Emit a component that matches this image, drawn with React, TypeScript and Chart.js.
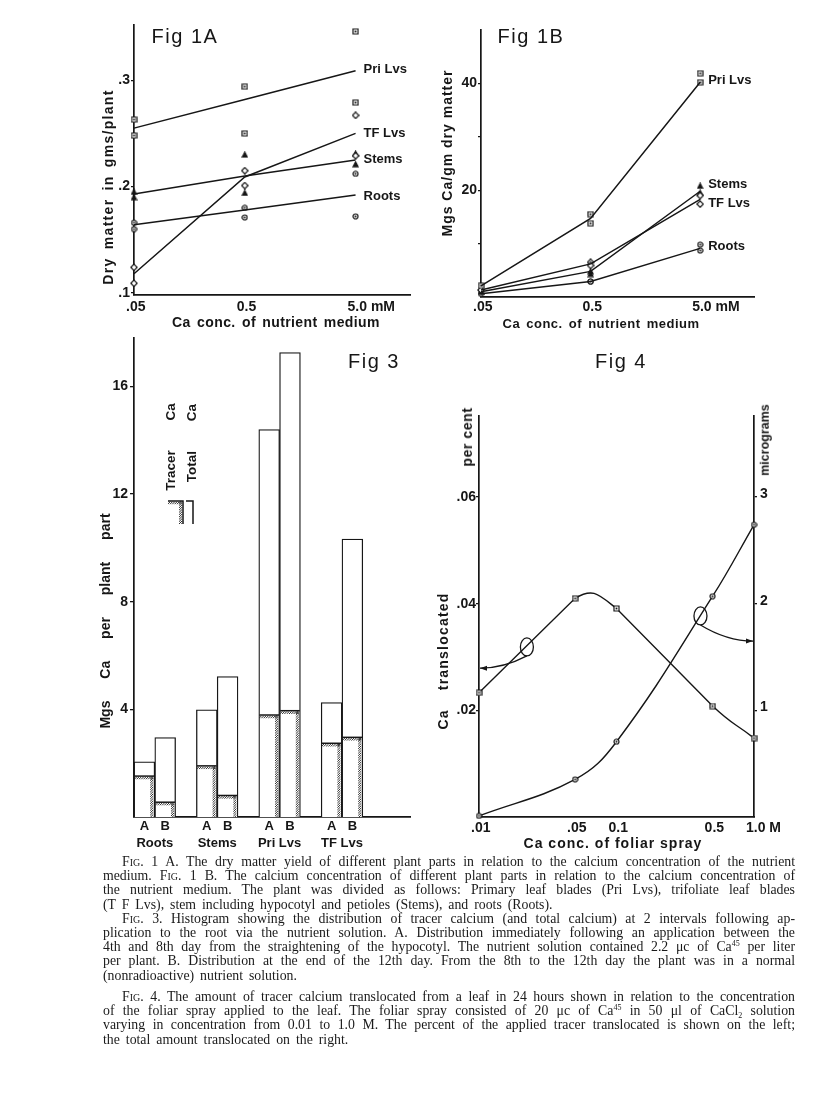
import React, { useEffect, useRef } from 'react';
import { Chart, registerables } from 'chart.js';

Chart.register(...registerables);

const INK = '#161616';
const FONT = '"Liberation Sans", Arial, sans-serif';

// ---------------- Fig 1A / 1B shared ----------------
const seriesNames = ['Pri Lvs', 'TF Lvs', 'Stems', 'Roots'];
const nutrientConc = [0.05, 0.5, 5.0];
const nutrientTicks = [0.05, 0.5, 5.0];
const nutrientTickLabels = ['.05', '0.5', '5.0 mM'];

// ---------------- Fig 1A: dry matter (gms/plant) ----------------
const fig1aYTicks = [0.1, 0.2, 0.3];
const fig1aYTickLabels = ['.1', '.2', '.3'];
const fig1aFitPri = [0.255, 0.282, 0.309];
const fig1aFitTF = [0.118, 0.209, 0.25];
const fig1aFitStems = [0.193, 0.21, 0.225];
const fig1aFitRoots = [0.164, 0.178, 0.192];
const fig1aObsConc = [0.05, 0.05, 0.5, 0.5, 5.0, 5.0];
const fig1aObsPri = [0.263, 0.248, 0.294, 0.25, 0.346, 0.279];
const fig1aObsTF = [0.124, 0.109, 0.215, 0.201, 0.267, 0.229];
const fig1aObsStems = [0.195, 0.19, 0.23, 0.194, 0.231, 0.221];
const fig1aObsRoots = [0.166, 0.16, 0.18, 0.171, 0.212, 0.172];
const fig1aLabelAt = [0.31, 0.25, 0.226, 0.191];

// ---------------- Fig 1B: Mgs Ca / gm dry matter ----------------
const fig1bYTicks = [10, 20, 30, 40];
const fig1bYTickLabels = ['', '20', '', '40'];
const fig1bFitPri = [2.1, 14.7, 40.2];
const fig1bFitTF = [1.3, 6.2, 18.3];
const fig1bFitStems = [1.0, 4.8, 19.8];
const fig1bFitRoots = [0.6, 2.9, 9.1];
const fig1bObsConc = [0.05, 0.5, 0.5, 5.0, 5.0];
const fig1bObsPri = [2.1, 15.5, 13.8, 41.9, 40.2];
const fig1bObsTF = [1.3, 6.5, 5.9, 17.4, 19.0];
const fig1bObsStems = [1.0, 4.8, 4.3, 20.8, 19.5];
const fig1bObsRoots = [0.6, 2.9, 2.9, 9.8, 8.7];
const fig1bLabelAt = [40.6, 17.6, 21.0, 9.55];

// ---------------- Fig 3: Mgs Ca per plant part ----------------
const fig3Parts = ['Roots', 'Stems', 'Pri Lvs', 'TF Lvs'];
const fig3Times = ['A', 'B'];
const fig3Total = [2.05, 2.95, 3.98, 5.22, 14.4, 17.26, 4.25, 10.33];
const fig3Tracer = [1.52, 0.55, 1.9, 0.8, 3.79, 3.95, 2.74, 2.96];
const fig3YTicks = [4, 8, 12, 16];
const fig3YTickLabels = ['4', '8', '12', '16'];

// ---------------- Fig 4: Ca translocated ----------------
const fig4Conc = [0.01, 0.05, 0.1, 0.5, 1.0];
const fig4XTickLabels = ['.01', '.05', '0.1', '0.5', '1.0 M'];
const fig4Percent = [0.0233, 0.041, 0.0391, 0.0208, 0.0148];
const fig4Micrograms = [0.01, 0.353, 0.706, 2.07, 2.74];
const fig4LeftTicks = [0.02, 0.04, 0.06];
const fig4LeftTickLabels = ['.02', '.04', '.06'];
const fig4RightTicks = [1, 2, 3];
const fig4RightTickLabels = ['1', '2', '3'];
const fig4Rings = [
  { x: 0.0223, y: 0.0319, side: 'left', to: 0.0279 },
  { x: 0.408, y: 0.0377, side: 'right', to: 1.65 },
];

// ---------------- helpers ----------------
function fixSize(size: number) {
  return (s: any) => {
    if (s.isHorizontal()) s.height = size;
    else s.width = size;
    s.paddingLeft = 0;
    s.paddingRight = 0;
    s.paddingTop = 0;
    s.paddingBottom = 0;
  };
}
function setTicks(values: number[]) {
  return (s: any) => {
    s.ticks = values.map((v) => ({ value: v }));
  };
}
const tickFont = (size = 14) => ({ family: FONT, size, weight: 'bold' as const });

function valueAxis(o: any) {
  return {
    type: 'linear',
    position: o.position || 'left',
    min: o.min,
    max: o.max,
    afterBuildTicks: setTicks(o.ticks),
    afterFit: fixSize(o.width),
    grid: { display: true, drawOnChartArea: false, drawTicks: true, tickLength: o.tickLen ?? 4, color: INK, lineWidth: 1.3 },
    border: { display: true, color: INK, width: 1.7 },
    ticks: {
      color: INK,
      font: tickFont(o.size || 14),
      padding: o.pad ?? 1,
      labelOffset: o.labelOffset || 0,
      autoSkip: false,
      callback: (_v: any, i: number) => o.labels[i],
    },
  };
}
function logAxis(o: any) {
  return {
    type: 'logarithmic',
    position: 'bottom',
    min: o.min,
    max: o.max,
    afterBuildTicks: setTicks(o.ticks),
    afterFit: fixSize(o.height),
    grid: { display: false, drawTicks: false },
    border: { display: true, color: INK, width: 1.7 },
    ticks: {
      color: INK,
      font: tickFont(14),
      padding: o.pad,
      align: 'start',
      labelOffset: -8,
      autoSkip: false,
      maxRotation: 0,
      minRotation: 0,
      callback: (_v: any, i: number) => o.labels[i],
    },
  };
}

function makeMarker(kind: string, size: number) {
  const c = document.createElement('canvas');
  c.width = size;
  c.height = size;
  const g = c.getContext('2d')!;
  const m = size / 2;
  g.lineWidth = 1.2;
  g.strokeStyle = INK;
  g.fillStyle = '#fff';
  g.beginPath();
  if (kind === 'square') g.rect(1, 1, size - 2, size - 2);
  else if (kind === 'circle') g.arc(m, m, m - 1, 0, Math.PI * 2);
  else if (kind === 'diamond') {
    g.moveTo(m, 0.8);
    g.lineTo(size - 0.8, m);
    g.lineTo(m, size - 0.8);
    g.lineTo(0.8, m);
    g.closePath();
  } else {
    g.moveTo(m, 1);
    g.lineTo(size - 1, size - 1);
    g.lineTo(1, size - 1);
    g.closePath();
  }
  if (kind === 'triangle') g.fillStyle = INK;
  g.fill();
  g.stroke();
  if (kind === 'square' || kind === 'circle') {
    g.fillStyle = INK;
    g.fillRect(m - 0.9, m - 0.9, 1.8, 1.8);
  }
  return c;
}

function baseOptions(padding: any) {
  return {
    responsive: false,
    maintainAspectRatio: false,
    animation: false,
    events: [],
    layout: { padding },
    plugins: { legend: { display: false }, tooltip: { enabled: false }, title: { display: false } },
  };
}

function hatch(ctx: CanvasRenderingContext2D, x0: number, y0: number, w: number, h: number) {
  ctx.save();
  ctx.beginPath();
  ctx.rect(x0, y0, w, h);
  ctx.clip();
  ctx.beginPath();
  for (let k = -h; k <= w; k += 2.3) {
    ctx.moveTo(x0 + k, y0 + h);
    ctx.lineTo(x0 + k + h, y0);
  }
  ctx.stroke();
  ctx.restore();
}

// ---------------- Fig 1 charts ----------------
function fig1Config(o: any) {
  const markers = [makeMarker('square', 7), makeMarker('diamond', 8), makeMarker('triangle', 7), makeMarker('circle', 7)];
  const fits = [o.fitPri, o.fitTF, o.fitStems, o.fitRoots].map((arr: number[]) => ({
    type: 'line',
    data: nutrientConc.map((x, i) => ({ x, y: arr[i] })),
    borderColor: INK,
    borderWidth: 1.5,
    pointRadius: 0,
    tension: 0,
    fill: false,
    clip: false,
  }));
  const obs = [o.obsPri, o.obsTF, o.obsStems, o.obsRoots].map((arr: number[], k: number) => ({
    type: 'line',
    showLine: false,
    data: o.obsConc.map((x: number, i: number) => ({ x, y: arr[i] })),
    pointStyle: markers[k],
    pointRadius: 4,
    clip: false,
  }));
  const labelPlugin = {
    id: 'seriesLabels',
    afterDraw(chart: any) {
      const { ctx, scales } = chart;
      ctx.save();
      ctx.font = `bold 13px ${FONT}`;
      ctx.fillStyle = INK;
      ctx.textBaseline = 'middle';
      ctx.textAlign = 'left';
      seriesNames.forEach((n, i) => {
        ctx.fillText(n, scales.x.getPixelForValue(nutrientConc[2]) + 8, scales.y.getPixelForValue(o.labelAt[i]));
      });
      ctx.restore();
    },
  };
  return {
    type: 'line',
    data: { datasets: [...fits, ...obs] },
    options: {
      ...baseOptions({ left: 0, top: 10, right: 10, bottom: 0 }),
      scales: {
        x: logAxis({ min: 0.05, max: 15.5, ticks: nutrientTicks, labels: nutrientTickLabels, height: 20, pad: o.xPad }),
        y: valueAxis({ min: o.yMin, max: o.yMax, ticks: o.yTicks, labels: o.yLabels, width: 50, tickLen: 3, pad: 1 }),
      },
    },
    plugins: [labelPlugin],
  };
}

const makeFig1A = () =>
  fig1Config({
    fitPri: fig1aFitPri, fitTF: fig1aFitTF, fitStems: fig1aFitStems, fitRoots: fig1aFitRoots,
    obsConc: fig1aObsConc, obsPri: fig1aObsPri, obsTF: fig1aObsTF, obsStems: fig1aObsStems, obsRoots: fig1aObsRoots,
    labelAt: fig1aLabelAt, yMin: 0.098, yMax: 0.352, yTicks: fig1aYTicks, yLabels: fig1aYTickLabels, xPad: 4,
  });
const makeFig1B = () =>
  fig1Config({
    fitPri: fig1bFitPri, fitTF: fig1bFitTF, fitStems: fig1bFitStems, fitRoots: fig1bFitRoots,
    obsConc: fig1bObsConc, obsPri: fig1bObsPri, obsTF: fig1bObsTF, obsStems: fig1bObsStems, obsRoots: fig1bObsRoots,
    labelAt: fig1bLabelAt, yMin: 0, yMax: 50, yTicks: fig1bYTicks, yLabels: fig1bYTickLabels, xPad: 2,
  });

// ---------------- Fig 3 chart ----------------
const fig3BarX = fig3Total.map((_v, i) => Math.floor(i / 2) * 3 + (i % 2) + 0.5);

function makeFig3() {
  const barCommon = { type: 'bar', grouped: false, barPercentage: 1, categoryPercentage: 1 };
  const deco = {
    id: 'fig3deco',
    afterDatasetsDraw(chart: any) {
      const { ctx, chartArea, scales } = chart;
      const meta = chart.getDatasetMeta(1);
      ctx.save();
      ctx.strokeStyle = INK;
      ctx.fillStyle = INK;
      meta.data.forEach((el: any) => {
        const { x, y, base, width } = el.getProps(['x', 'y', 'base', 'width'], true);
        const l = x - width / 2 + 0.6;
        const r = x + width / 2 - 0.6;
        ctx.lineWidth = 1.5;
        ctx.beginPath();
        ctx.moveTo(l, y);
        ctx.lineTo(r, y);
        ctx.stroke();
        ctx.lineWidth = 0.9;
        hatch(ctx, l, y + 0.6, r - l - 0.8, 2.8);
        hatch(ctx, r - 4.0, y, 3.0, base - y);
      });
      // legend symbols (tracer / total)
      const lx = chartArea.left;
      const ly = chartArea.top;
      ctx.lineWidth = 1.5;
      ctx.beginPath();
      ctx.moveTo(lx + 34, ly + 163);
      ctx.lineTo(lx + 49, ly + 163);
      ctx.lineTo(lx + 49, ly + 186);
      ctx.moveTo(lx + 52, ly + 163);
      ctx.lineTo(lx + 59, ly + 163);
      ctx.lineTo(lx + 59, ly + 186);
      ctx.stroke();
      ctx.lineWidth = 0.9;
      hatch(ctx, lx + 34, ly + 163.6, 14, 2.8);
      hatch(ctx, lx + 45, ly + 163, 3, 23);
      // group labels
      ctx.font = `bold 13px ${FONT}`;
      ctx.textAlign = 'center';
      ctx.textBaseline = 'middle';
      fig3Parts.forEach((p, k) => {
        ctx.fillText(p, scales.x.getPixelForValue(k * 3 + 1), chartArea.bottom + 26);
      });
      ctx.restore();
    },
  };
  return {
    type: 'bar',
    data: {
      datasets: [
        {
          ...barCommon,
          data: fig3BarX.map((x, i) => ({ x, y: fig3Total[i] })),
          backgroundColor: '#ffffff',
          borderColor: INK,
          borderWidth: 1.3,
          borderSkipped: 'bottom',
        },
        {
          ...barCommon,
          data: fig3BarX.map((x, i) => ({ x, y: fig3Tracer[i] })),
          backgroundColor: 'rgba(0,0,0,0)',
          borderWidth: 0,
        },
      ],
    },
    options: {
      ...baseOptions({ left: 0, top: 10, right: 10, bottom: 0 }),
      scales: {
        x: {
          type: 'linear',
          min: 0,
          max: 13.27,
          offset: false,
          afterBuildTicks: setTicks(fig3BarX),
          afterFit: fixSize(41),
          grid: { display: false, drawTicks: false, offset: false },
          border: { display: true, color: INK, width: 1.7 },
          ticks: {
            color: INK,
            font: tickFont(13),
            padding: 2,
            autoSkip: false,
            maxRotation: 0,
            minRotation: 0,
            callback: (_v: any, i: number) => fig3Times[i % 2],
          },
        },
        y: valueAxis({ min: 0, max: 17.8, ticks: fig3YTicks, labels: fig3YTickLabels, width: 50, tickLen: 4, pad: 2 }),
      },
    },
    plugins: [deco],
  };
}

// ---------------- Fig 4 chart ----------------
function makeFig4() {
  const sq = makeMarker('square', 7);
  const ci = makeMarker('circle', 7);
  // the per-cent curve is drawn straight on its outer stretches and rounded over the peak
  const straightSegments = [0, 2];
  const shape = {
    id: 'shape',
    beforeDatasetDraw(chart: any, args: any) {
      if (args.index !== 0) return;
      const line = args.meta.dataset;
      if (line && line.updateControlPoints) line.updateControlPoints(chart.chartArea, 'x');
      const pts = args.meta.data;
      straightSegments.forEach((i) => {
        const a = pts[i];
        const b = pts[i + 1];
        if (!a || !b) return;
        a.cp2x = a.x;
        a.cp2y = a.y;
        b.cp1x = b.x;
        b.cp1y = b.y;
      });
    },
  };
  const rings = {
    id: 'rings',
    afterDatasetsDraw(chart: any) {
      const { ctx, chartArea, scales } = chart;
      ctx.save();
      ctx.strokeStyle = INK;
      ctx.fillStyle = INK;
      ctx.lineWidth = 1.3;
      fig4Rings.forEach((r) => {
        const cx = scales.x.getPixelForValue(r.x);
        const cy = scales.y.getPixelForValue(r.y);
        ctx.beginPath();
        ctx.ellipse(cx, cy, 6.5, 9, 0, 0, Math.PI * 2);
        ctx.stroke();
        const left = r.side === 'left';
        const ex = left ? chartArea.left + 1 : chartArea.right - 1;
        const ey = (left ? scales.y : scales.y2).getPixelForValue(r.to);
        const sx = cx;
        const sy = cy + 9;
        ctx.beginPath();
        ctx.moveTo(sx, sy);
        ctx.quadraticCurveTo((sx + ex) / 2, ey, ex, ey);
        ctx.stroke();
        const dir = left ? -1 : 1;
        ctx.beginPath();
        ctx.moveTo(ex, ey);
        ctx.lineTo(ex - dir * 7, ey - 2.5);
        ctx.lineTo(ex - dir * 7, ey + 2.5);
        ctx.closePath();
        ctx.fill();
      });
      ctx.restore();
    },
  };
  return {
    type: 'line',
    data: {
      datasets: [
        {
          data: fig4Conc.map((x, i) => ({ x, y: fig4Percent[i] })),
          yAxisID: 'y',
          borderColor: INK,
          borderWidth: 1.4,
          tension: 0.55,
          pointStyle: sq,
          pointRadius: 3.5,
          clip: false,
          fill: false,
        },
        {
          data: fig4Conc.map((x, i) => ({ x, y: fig4Micrograms[i] })),
          yAxisID: 'y2',
          borderColor: INK,
          borderWidth: 1.4,
          tension: 0.4,
          pointStyle: ci,
          pointRadius: 3.5,
          clip: false,
          fill: false,
        },
      ],
    },
    options: {
      ...baseOptions({ left: 0, top: 10, right: 0, bottom: 0 }),
      scales: {
        x: logAxis({ min: 0.01, max: 1.0, ticks: fig4Conc, labels: fig4XTickLabels, height: 41, pad: 3 }),
        y: valueAxis({ min: 0, max: 0.0752, ticks: fig4LeftTicks, labels: fig4LeftTickLabels, width: 50, tickLen: 3, pad: 0 }),
        y2: valueAxis({ position: 'right', min: 0, max: 3.76, ticks: fig4RightTicks, labels: fig4RightTickLabels, width: 41, tickLen: 3, pad: 3, labelOffset: -3 }),
      },
    },
    plugins: [shape, rings],
  };
}

// ---------------- components ----------------
function ChartBox({ box, make }: { box: any; make: () => any }) {
  const ref = useRef<HTMLCanvasElement>(null);
  useEffect(() => {
    const chart = new Chart(ref.current as HTMLCanvasElement, make() as any);
    return () => chart.destroy();
  }, []);
  return (
    <canvas
      ref={ref}
      width={box.width}
      height={box.height}
      style={{ position: 'absolute', left: box.left, top: box.top, width: box.width, height: box.height }}
    />
  );
}

function Txt(p: any) {
  const { t, x, y, size = 14, weight = 700, ls = 0, ws = 0, rot = false } = p;
  return (
    <div
      style={{
        position: 'absolute',
        left: x,
        top: y,
        transform: `translate(-50%, -50%)${rot ? ' rotate(-90deg)' : ''}`,
        whiteSpace: 'pre',
        fontFamily: FONT,
        fontSize: size,
        fontWeight: weight,
        letterSpacing: ls,
        wordSpacing: ws,
        color: INK,
        lineHeight: 1,
      }}
    >
      {t}
    </div>
  );
}

const SC = () => <span style={{ fontVariant: 'small-caps' }}>Fig.</span>;
const Sup = ({ c }: any) => <span style={{ fontSize: 8, verticalAlign: 5, lineHeight: 0 }}>{c}</span>;
const Sub = ({ c }: any) => <span style={{ fontSize: 8, verticalAlign: -3, lineHeight: 0 }}>{c}</span>;

function Line({ children, first = false, last = false }: any) {
  return (
    <div
      style={{
        textAlign: 'justify',
        textAlignLast: last ? 'left' : 'justify',
        textIndent: first ? 19 : 0,
        wordSpacing: last ? 2.5 : 0,
        height: '14.2px',
      }}
    >
      {children}
    </div>
  );
}

function Caption() {
  const block: any = {
    position: 'absolute',
    left: 103,
    width: 692,
    fontFamily: '"Liberation Serif", "Times New Roman", serif',
    fontSize: 13.8,
    lineHeight: '14.2px',
    color: '#1a1a1a',
  };
  return (
    <>
      <div style={{ ...block, top: 855 }}>
        <Line first>
          <SC /> 1 A.  The dry matter yield of different plant parts in relation to the calcium concentration of the nutrient
        </Line>
        <Line>
          medium.  <SC /> 1 B.  The calcium concentration of different plant parts in relation to the calcium concentration of
        </Line>
        <Line>the nutrient medium.  The plant was divided as follows:  Primary leaf blades (Pri Lvs), trifoliate leaf blades</Line>
        <Line last>(T F Lvs), stem including hypocotyl and petioles (Stems), and roots (Roots).</Line>
        <Line first>
          <SC /> 3.  Histogram showing the distribution of tracer calcium (and total calcium) at 2 intervals following ap-
        </Line>
        <Line>plication to the root via the nutrient solution.  A.  Distribution immediately following an application between the</Line>
        <Line>
          4th and 8th day from the straightening of the hypocotyl.  The nutrient solution contained 2.2 μc of Ca<Sup c="45" /> per liter
        </Line>
        <Line>per plant.  B.  Distribution at the end of the 12th day.  From the 8th to the 12th day the plant was in a normal</Line>
        <Line last>(nonradioactive) nutrient solution.</Line>
      </div>
      <div style={{ ...block, top: 990 }}>
        <Line first>
          <SC /> 4.  The amount of tracer calcium translocated from a leaf in 24 hours shown in relation to the concentration
        </Line>
        <Line>
          of the foliar spray applied to the leaf.  The foliar spray consisted of 20 μc of Ca<Sup c="45" /> in 50 μl of CaCl<Sub c="2" /> solution
        </Line>
        <Line>varying in concentration from 0.01 to 1.0 M.  The percent of the applied tracer translocated is shown on the left;</Line>
        <Line last>the total amount translocated on the right.</Line>
      </div>
    </>
  );
}

export default function App() {
  const texts = [
    { t: 'Fig 1A', x: 185, y: 36, size: 20, weight: 400, ls: 1.5 },
    { t: 'Fig 1B', x: 531, y: 36, size: 20, weight: 400, ls: 1.5 },
    { t: 'Fig 3', x: 374, y: 361, size: 20, weight: 400, ls: 1.5 },
    { t: 'Fig 4', x: 621, y: 361, size: 20, weight: 400, ls: 1.5 },
    { t: 'Dry matter in gms/plant', x: 108, y: 187, rot: true, size: 14, ls: 1.3, ws: 3 },
    { t: 'Ca conc. of nutrient medium', x: 276, y: 322, size: 14, ls: 0.4, ws: 2 },
    { t: 'Mgs Ca/gm dry matter', x: 447, y: 153, rot: true, size: 14, ls: 1 },
    { t: 'Ca conc. of nutrient medium', x: 601, y: 323, size: 13, ls: 0.5, ws: 2 },
    { t: 'Mgs Ca per plant part', x: 105, y: 621, rot: true, size: 14, ws: 18 },
    { t: 'Tracer Ca', x: 171, y: 447, rot: true, size: 13.5, ws: 26 },
    { t: 'Total Ca', x: 192, y: 443, rot: true, size: 13.5, ws: 26 },
    { t: 'Ca translocated', x: 443, y: 661, rot: true, size: 14, ls: 1.2, ws: 14 },
    { t: 'per cent', x: 467, y: 437, rot: true, size: 14, ls: 0.6 },
    { t: 'micrograms', x: 765, y: 440, rot: true, size: 12.5 },
    { t: 'Ca conc. of foliar spray', x: 613, y: 843, size: 14, ls: 1 },
  ];
  return (
    <div style={{ position: 'absolute', left: 0, top: 0, width: 816, height: 1115, background: '#fff', overflow: 'hidden' }}>
      <ChartBox box={{ left: 84, top: 15, width: 336, height: 300 }} make={makeFig1A} />
      <ChartBox box={{ left: 431, top: 20, width: 333, height: 297 }} make={makeFig1B} />
      <ChartBox box={{ left: 84, top: 328, width: 336, height: 530 }} make={makeFig3} />
      <ChartBox box={{ left: 429, top: 406, width: 366, height: 452 }} make={makeFig4} />
      {texts.map((p, i) => (
        <Txt key={i} {...p} />
      ))}
      <Caption />
    </div>
  );
}
